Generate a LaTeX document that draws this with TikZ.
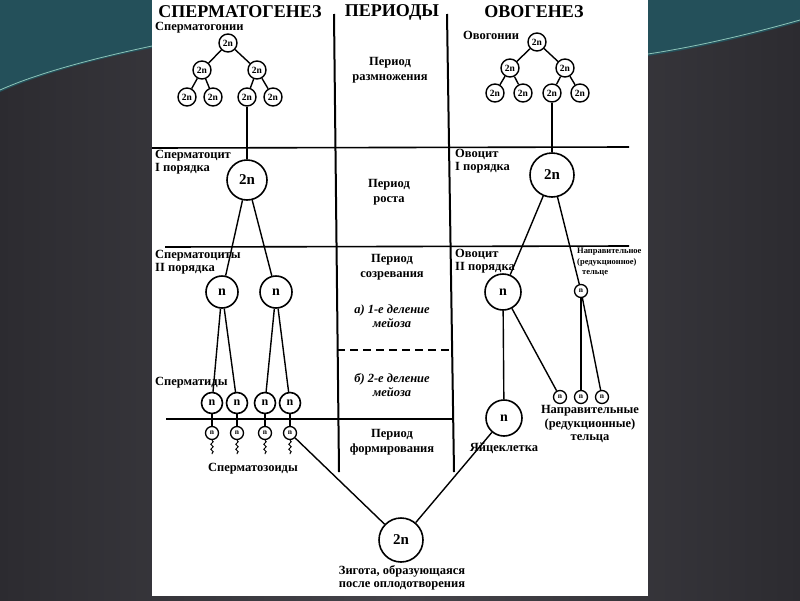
\documentclass[tikz,border=0pt]{standalone}
\usepackage{fontspec}
\setmainfont{Liberation Serif}
\usetikzlibrary{decorations.pathmorphing}

\definecolor{slate}{HTML}{45444A}
\definecolor{slatedark}{HTML}{2C2B30}
\definecolor{tealdark}{HTML}{24505A}
\definecolor{tealwisp}{HTML}{8CC4B8}

\tikzstyle{cell} = [circle, draw=black, line width=1.6pt, inner sep=0pt, fill=white]
\tikzstyle{gonium} = [cell, minimum size=18pt, line width=1.4pt, font=\bfseries\fontsize{9.5}{10}\selectfont]
\tikzstyle{firstcell} = [cell, minimum size=40pt, font=\bfseries\fontsize{15}{15}\selectfont]
\tikzstyle{secondcell} = [cell, minimum size=32pt, font=\bfseries\fontsize{14}{14}\selectfont]
\tikzstyle{tidcell} = [cell, minimum size=21pt, font=\bfseries\fontsize{12}{12}\selectfont]
\tikzstyle{tinycell} = [cell, minimum size=13pt, line width=1.3pt, font=\bfseries\fontsize{7.5}{7.5}\selectfont]
\tikzstyle{heading} = [font=\bfseries\fontsize{18}{18}\selectfont]
\tikzstyle{tag} = [font=\bfseries\fontsize{12.5}{13}\selectfont, align=left, anchor=west, inner sep=0pt]
\tikzstyle{tagc} = [font=\bfseries\fontsize{12.5}{13.5}\selectfont, align=center, inner sep=0pt]
\tikzstyle{period} = [font=\bfseries\fontsize{12.5}{15}\selectfont, align=center, inner sep=0pt]
\tikzstyle{phase} = [font=\bfseries\itshape\fontsize{12.5}{14}\selectfont, align=center, inner sep=0pt]
\tikzstyle{link} = [line width=1.4pt]
\tikzstyle{gridline} = [line width=1.6pt]
\tikzstyle{tail} = [line width=1pt, decorate, decoration={snake, amplitude=1.2pt, segment length=5pt}]

\begin{document}
\begin{tikzpicture}[x=1pt, y=-1pt]
\useasboundingbox (0,0) rectangle (800,600);

% slide background
\shade[left color=slatedark, right color=slatedark, middle color=slate] (0,0) rectangle (800,600);
\fill[tealdark] (0,0) -- (152,0) -- (152,48) .. controls (100,58) and (40,74) .. (0,92) -- cycle;
\draw[tealwisp, line width=0.8pt] (0,90) .. controls (40,72) and (100,57) .. (152,46);
\fill[tealdark] (648,0) -- (800,0) -- (800,22) .. controls (750,36) and (700,48) .. (648,56) -- cycle;
\draw[tealwisp, line width=0.8pt] (648,54) .. controls (700,46) and (750,34) .. (800,20);
\fill[white] (152,0) rectangle (648,596);

% headings
\node[heading] (sperm) at (240,12) {СПЕРМАТОГЕНЕЗ};
\node[heading] (per) at (392,12) {ПЕРИОДЫ};
\node[heading] (ovo) at (534,12) {ОВОГЕНЕЗ};

% grid
\draw[gridline, line width=2pt] (334,14) -- (339,472);
\draw[gridline, line width=2pt] (447,14) -- (454,472);
\draw[gridline] (152,148) -- (629,147);
\draw[gridline] (165,247) -- (629,246);
\draw[gridline, dash pattern=on 8pt off 5pt] (337,350) -- (451,350);
\draw[gridline] (166,419) -- (452,419);

% periods
\node[period] (rep) at (390,70) {Период\\размножения};
\node[period] (grow) at (389,192) {Период\\роста};
\node[period] (ripe) at (392,267) {Период\\созревания};
\node[phase] (div1) at (392,316) {а) 1-е деление\\мейоза};
\node[phase] (div2) at (392,385) {б) 2-е деление\\мейоза};
\node[period] (form) at (392,442) {Период\\формирования};

% spermatogenesis
\node[tag] (tgon) at (155,28) {Сперматогонии};
\node[gonium] (g1) at (228,43) {2n};
\node[gonium] (g2a) at (202,70) {2n};
\node[gonium] (g2b) at (257,70) {2n};
\node[gonium] (g3a) at (187,97) {2n};
\node[gonium] (g3b) at (213,97) {2n};
\node[gonium] (g3c) at (247,97) {2n};
\node[gonium] (g3d) at (273,97) {2n};

\node[tag] (tcyt1) at (155,162) {Сперматоцит\\I порядка};
\node[firstcell] (s1) at (247,180) {2n};
\node[tag] (tcyt2) at (155,262) {Сперматоциты\\II порядка};
\node[secondcell] (s2a) at (222,292) {n};
\node[secondcell] (s2b) at (276,292) {n};
\node[tag] (ttid) at (155,383) {Сперматиды};
\node[tidcell] (t1) at (212,403) {n};
\node[tidcell] (t2) at (237,403) {n};
\node[tidcell] (t3) at (265,403) {n};
\node[tidcell] (t4) at (290,403) {n};
\node[tinycell] (z1) at (212,433) {n};
\node[tinycell] (z2) at (237,433) {n};
\node[tinycell] (z3) at (265,433) {n};
\node[tinycell] (z4) at (290,433) {n};
\node[tagc] (tzoid) at (253,469) {Сперматозоиды};

\draw[link] (g1) -- (g2a);
\draw[link] (g1) -- (g2b);
\draw[link] (g2a) -- (g3a);
\draw[link] (g2a) -- (g3b);
\draw[link] (g2b) -- (g3c);
\draw[link] (g2b) -- (g3d);
\draw[link] (g3c) -- (s1);
\draw[link] (s1) -- (s2a);
\draw[link] (s1) -- (s2b);
\draw[link] (s2a) -- (t1);
\draw[link] (s2a) -- (t2);
\draw[link] (s2b) -- (t3);
\draw[link] (s2b) -- (t4);
\foreach \i in {1,2,3,4} {
  \draw[link] (t\i) -- (z\i);
  \draw[tail] (z\i.south) -- ++(0,14);
}

% oogenesis
\node[tag] (togon) at (463,35) {Овогонии};
\node[gonium] (o1) at (537,42) {2n};
\node[gonium] (o2a) at (510,68) {2n};
\node[gonium] (o2b) at (565,68) {2n};
\node[gonium] (o3a) at (495,93) {2n};
\node[gonium] (o3b) at (523,93) {2n};
\node[gonium] (o3c) at (552,93) {2n};
\node[gonium] (o3d) at (580,93) {2n};

\node[tag] (tocy1) at (455,161) {Овоцит\\I порядка};
\node[firstcell, minimum size=44pt] (oc1) at (552,175) {2n};
\node[tag] (tocy2) at (455,261) {Овоцит\\II порядка};
\node[secondcell, minimum size=36pt] (oc2) at (503,292) {n};
\node[tinycell] (pb) at (581,291) {n};
\node[tag, font=\bfseries\fontsize{8.5}{10.5}\selectfont] (tpb) at (577,262) {Направительное\\(редукционное)\\\hspace*{5pt}тельце};
\node[tinycell] (p1) at (560,397) {n};
\node[tinycell] (p2) at (581,397) {n};
\node[tinycell] (p3) at (602,397) {n};
\node[tagc] (tpbs) at (590,424) {Направительные\\(редукционные)\\тельца};
\node[secondcell, minimum size=36pt] (egg) at (504,418) {n};
\node[tagc] (tegg) at (504,448) {Яйцеклетка};

\draw[link] (o1) -- (o2a);
\draw[link] (o1) -- (o2b);
\draw[link] (o2a) -- (o3a);
\draw[link] (o2a) -- (o3b);
\draw[link] (o2b) -- (o3c);
\draw[link] (o2b) -- (o3d);
\draw[link] (o3c) -- (oc1);
\draw[link] (oc1) -- (oc2);
\draw[link] (oc1) -- (pb);
\draw[link] (oc2) -- (egg);
\draw[link] (oc2) -- (p1);
\draw[link] (pb) -- (p2);
\draw[link] (pb) -- (p3);

% zygote
\node[firstcell, minimum size=44pt] (zyg) at (401,540) {2n};
\node[tagc] (tzyg) at (402,578) {Зигота, образующаяся\\после оплодотворения};
\draw[link] (z4) -- (zyg);
\draw[link] (egg) -- (zyg);

\end{tikzpicture}
\end{document}
